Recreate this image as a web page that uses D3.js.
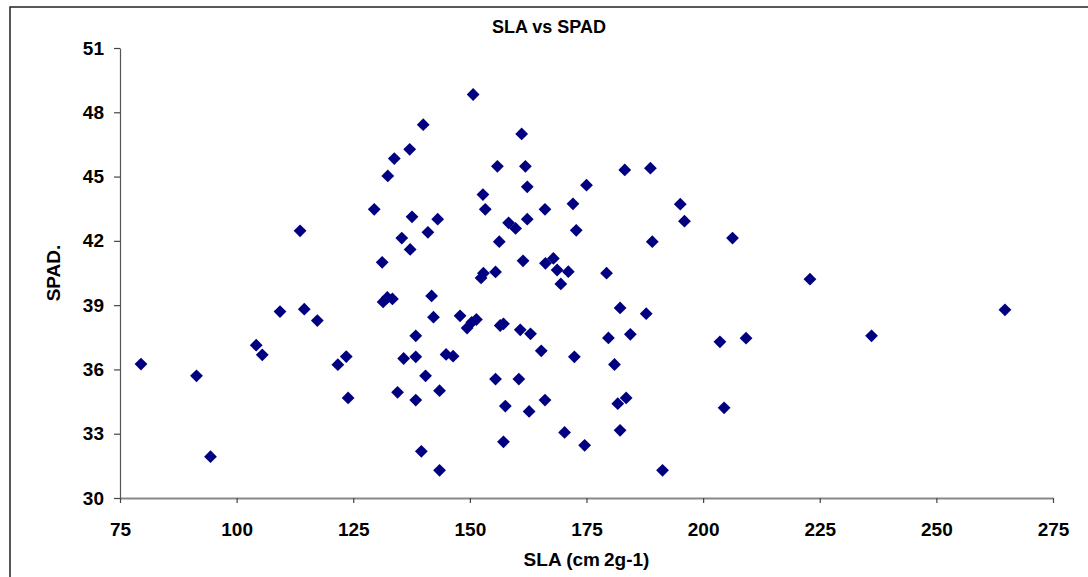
<!DOCTYPE html>
<html>
<head>
<meta charset="utf-8">
<script src="https://cdn.jsdelivr.net/npm/d3@7"></script>
<style>
  html, body { margin: 0; padding: 0; background: #fff; }
  svg { display: block; font-family: Arial, "Liberation Sans", sans-serif; }
</style>
</head>
<body>
<svg id="chart" width="1088" height="577"></svg>
<script>
// Specific leaf area (cm2 g-1) per sample
const sla = [
  79.5, 91.4, 94.4, 104.2, 105.5, 109.3, 113.6, 114.5, 117.3, 121.7,
  123.5, 123.9, 129.5, 131.2, 131.4, 132.3, 133.4, 132.4, 133.8, 135.4,
  135.8, 134.5, 137.1, 137.2, 137.6, 138.4, 138.4, 138.4, 140.0, 139.6,
  140.5, 141.0, 141.8, 142.2, 143.1, 143.5, 143.5, 144.9, 146.4, 147.9,
  149.4, 150.4, 151.4, 150.7, 152.4, 152.9, 152.8, 153.3, 155.5, 155.5,
  155.9, 156.3, 156.5, 157.2, 157.6, 157.2, 158.3, 159.8, 160.5, 160.8,
  161.1, 161.4, 161.9, 162.3, 162.3, 162.7, 163.0, 165.3, 166.1, 166.1,
  166.2, 167.9, 168.7, 169.5, 170.3, 171.1, 172.1, 172.4, 172.8, 174.6,
  175.0, 179.3, 179.7, 181.0, 181.7, 182.2, 182.2, 183.2, 183.5, 184.4,
  187.8, 188.7, 189.1, 191.3, 195.1, 196.0, 203.6, 204.5, 206.3, 209.2,
  222.9, 236.1, 264.7
];

// SPAD chlorophyll meter reading for the same samples
const spad = [
  36.25, 35.70, 31.93, 37.13, 36.68, 38.70, 42.47, 38.81, 38.28, 36.22,
  36.60, 34.67, 43.47, 41.00, 39.15, 39.36, 39.29, 45.03, 45.84, 42.13,
  36.51, 34.93, 46.27, 41.60, 43.12, 37.57, 36.59, 34.57, 47.42, 32.18,
  35.70, 42.40, 39.43, 38.44, 43.01, 35.01, 31.29, 36.70, 36.62, 38.50,
  37.93, 38.20, 38.33, 48.83, 40.27, 40.49, 44.16, 43.47, 40.55, 35.55,
  45.48, 41.96, 38.05, 38.13, 34.29, 32.62, 42.84, 42.58, 35.55, 37.85,
  46.99, 41.07, 45.48, 44.52, 43.01, 34.04, 37.66, 36.87, 43.47, 34.57,
  40.95, 41.18, 40.64, 39.99, 33.06, 40.56, 43.73, 36.59, 42.49, 32.46,
  44.60, 40.49, 37.47, 36.23, 34.40, 38.87, 33.16, 45.31, 34.67, 37.64,
  38.60, 45.39, 41.96, 31.29, 43.71, 42.92, 37.29, 34.21, 42.13, 37.46,
  40.21, 37.57, 38.78
];

const xTicks = [75, 100, 125, 150, 175, 200, 225, 250, 275];
const yTicks = [30, 33, 36, 39, 42, 45, 48, 51];

const chartTitle = "SLA vs SPAD";
const yTitle = "SPAD.";

const points = sla.map((v, i) => ({ x: v, y: spad[i] }));

const svg = d3.select("#chart");
const W = 1088, H = 577;
const plot = { left: 120, right: 1053, top: 48, bottom: 498 };

svg.append("rect").attr("width", W).attr("height", H).attr("fill", "#fff");

// chart area frame (top and left edges)
svg.append("path")
  .attr("d", `M10,${H} L10,7 L${W},7`)
  .attr("fill", "none")
  .attr("stroke", "#222")
  .attr("stroke-width", 1.5);

const x = d3.scaleLinear().domain([75, 275]).range([plot.left, plot.right]);
const y = d3.scaleLinear().domain([30, 51]).range([plot.bottom, plot.top]);

// y axis
const yAxis = svg.append("g")
  .attr("transform", `translate(${plot.left},0)`)
  .call(d3.axisLeft(y).tickValues(yTicks).tickSize(6).tickSizeOuter(0).tickPadding(10).tickFormat(d3.format("d")));
yAxis.select(".domain").attr("stroke", "#555").attr("stroke-width", 1.2);
yAxis.selectAll(".tick line").attr("stroke", "#444").attr("stroke-width", 1.2);
yAxis.selectAll(".tick text")
  .attr("font-size", 19).attr("font-weight", "bold").attr("fill", "#000")
  .attr("font-family", "Arial, 'Liberation Sans', sans-serif");

// x axis
const xAxis = svg.append("g")
  .attr("transform", `translate(0,${plot.bottom})`)
  .call(d3.axisBottom(x).tickValues(xTicks).tickSize(5).tickSizeOuter(0).tickPadding(20).tickFormat(d3.format("d")));
xAxis.select(".domain").attr("stroke", "#888").attr("stroke-width", 2);
xAxis.selectAll(".tick line").attr("stroke", "#444").attr("stroke-width", 1.2);
xAxis.selectAll(".tick text")
  .attr("font-size", 19).attr("font-weight", "bold").attr("fill", "#000")
  .attr("font-family", "Arial, 'Liberation Sans', sans-serif");

// diamond marker with equal diagonals
const diamond = {
  draw(ctx, size) {
    const r = Math.sqrt(size / 2);
    ctx.moveTo(0, -r);
    ctx.lineTo(r, 0);
    ctx.lineTo(0, r);
    ctx.lineTo(-r, 0);
    ctx.closePath();
  }
};
const sym = d3.symbol().type(diamond).size(2 * 6.4 * 6.4);

svg.append("g")
  .selectAll("path")
  .data(points)
  .join("path")
  .attr("transform", d => `translate(${x(d.x)},${y(d.y)})`)
  .attr("d", sym)
  .attr("fill", "#000080");

// titles
svg.append("text")
  .attr("x", 549).attr("y", 33)
  .attr("text-anchor", "middle")
  .attr("font-size", 18).attr("font-weight", "bold")
  .text(chartTitle);

svg.append("text")
  .attr("transform", `translate(60,${(plot.top + plot.bottom) / 2}) rotate(-90)`)
  .attr("text-anchor", "middle")
  .attr("font-size", 19).attr("font-weight", "bold")
  .text(yTitle);

const xt = svg.append("text")
  .attr("x", (plot.left + plot.right) / 2).attr("y", 566)
  .attr("text-anchor", "middle")
  .attr("font-size", 19).attr("font-weight", "bold");
xt.append("tspan").text("SLA (cm");
xt.append("tspan").attr("dx", 4).text("2g-1)");
</script>
</body>
</html>
